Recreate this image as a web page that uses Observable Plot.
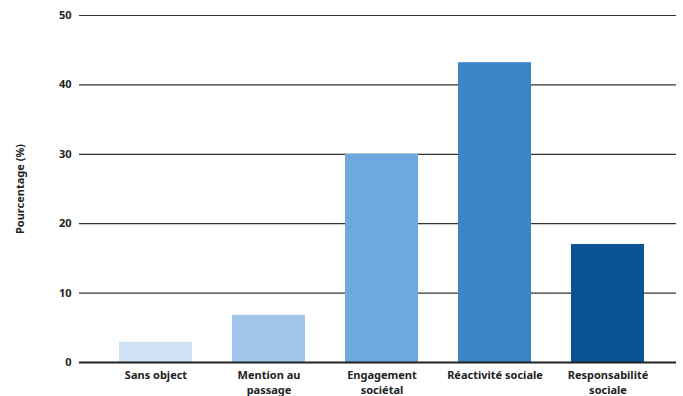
<!DOCTYPE html>
<html>
<head>
<meta charset="utf-8">
<script src="https://cdn.jsdelivr.net/npm/d3@7"></script>
<script src="https://cdn.jsdelivr.net/npm/@observablehq/plot@0.6"></script>
<style>
  html, body { margin: 0; padding: 0; background: #fff; }
  #chart svg { display: block; }
</style>
</head>
<body>
<div id="chart"></div>
<script>
const categories = ["Sans object", "Mention au passage", "Engagement sociétal", "Réactivité sociale", "Responsabilité sociale"];
const tickLabels = ["Sans object", "Mention au\npassage", "Engagement\nsociétal", "Réactivité sociale", "Responsabilité\nsociale"];
const values = [2.9, 6.8, 30.0, 43.2, 17.0];
const colors = ["#cfe2f3", "#9fc5e8", "#6fa8dc", "#3d85c6", "#0b5394"];
const yTicks = [0, 10, 20, 30, 40, 50];
const gridTicks = [10, 20, 30, 40, 50];

const data = categories.map((c, i) => ({category: c, value: values[i], label: tickLabels[i]}));
const labelOf = new Map(categories.map((c, i) => [c, tickLabels[i]]));

const chart = Plot.plot({
  width: 683,
  height: 396,
  marginLeft: 79,
  marginRight: 7,
  marginTop: 15,
  marginBottom: 34,
  style: {fontFamily: "'Noto Sans', sans-serif", fontSize: "11px", fontWeight: "bold", color: "#222"},
  x: {domain: categories, range: [78, 684], padding: 0.355, label: null},
  y: {domain: [0, 50], label: null},
  color: {domain: categories, range: colors},
  marks: [
    Plot.ruleY(gridTicks, {stroke: "#333", strokeWidth: 1.2, strokeOpacity: 1}),
    Plot.barY(data, {x: "category", y: "value", fill: "category"}),
    Plot.ruleY([0], {stroke: "#222", strokeWidth: 2.2}),
    Plot.axisY(yTicks, {tickSize: 0, tickPadding: 8, label: null, fontWeight: "bold", fill: "#222"}),
    Plot.axisX({tickSize: 0, tickPadding: 6, tickFormat: d => labelOf.get(d), label: null, lineHeight: 1.37, fill: "#222"}),
    Plot.text(["Pourcentage (%)"], {frameAnchor: "left", dx: -59, rotate: -90, textAnchor: "middle", fill: "#222", fontWeight: "bold"})
  ]
});
document.getElementById("chart").appendChild(chart);
</script>
</body>
</html>
